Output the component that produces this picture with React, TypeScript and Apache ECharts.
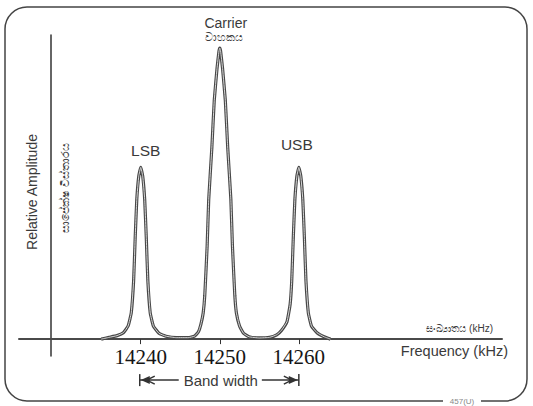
import React, { useEffect, useRef } from "react";
import * as echarts from "echarts";

// Spectrum trace: frequency (kHz) and relative amplitude (carrier = 1)
const freq = [
  14235.0, 14236.0, 14237.0, 14237.8, 14238.4, 14238.8, 14239.1, 14239.3, 14239.5, 14239.75,
  14240.0, 14240.25, 14240.5, 14240.7, 14240.9, 14241.2, 14241.6, 14242.3, 14243.2, 14244.5,
  14246.0, 14246.8, 14247.3, 14247.6, 14247.9, 14248.1, 14248.4, 14248.6, 14249.0, 14249.3,
  14249.65, 14249.9, 14250.0, 14250.1, 14250.35, 14250.7, 14251.0, 14251.4, 14251.6, 14251.9,
  14252.1, 14252.5, 14253.0, 14253.7, 14255.0, 14256.3, 14257.2, 14257.8, 14258.5, 14258.9,
  14259.1, 14259.3, 14259.5, 14259.75, 14260.0, 14260.25, 14260.5, 14260.7, 14260.9, 14261.2,
  14261.6, 14262.3, 14263.2, 14264.0,
];
const amp = [
  0.0, 0.006, 0.012, 0.022, 0.045, 0.09, 0.2, 0.35, 0.48, 0.56,
  0.59, 0.56, 0.48, 0.35, 0.2, 0.09, 0.045, 0.02, 0.01, 0.005,
  0.005, 0.01, 0.025, 0.05, 0.09, 0.15, 0.32, 0.48, 0.66, 0.82,
  0.93, 0.99, 1.0, 0.99, 0.93, 0.82, 0.66, 0.48, 0.32, 0.15,
  0.09, 0.045, 0.02, 0.008, 0.004, 0.006, 0.015, 0.03, 0.06, 0.12,
  0.2, 0.35, 0.48, 0.56, 0.59, 0.56, 0.48, 0.35, 0.2, 0.09,
  0.045, 0.022, 0.008, 0.0,
];

const tickValues = [14240, 14250, 14260];
const peakNames = ["LSB", "Carrier", "USB"];
const peakFreqs = [14240, 14250, 14260];
const peakAmps = [0.59, 1.0, 0.59];
const carrierSi = "වාහකය";
const ampTitle = "Relative Amplitude";
const ampTitleSi = "සාපේක්ෂ විස්තාරය";
const freqTitle = "Frequency (kHz)";
const freqTitleSi = "සංඛ්‍යාතය (kHz)";
const bandLabel = "Band width";
const figId = "457(U)";

const SANS = "Liberation Sans, Arial, sans-serif";
const INK = "#3a3a3a";

export default function App() {
  const ref = useRef<HTMLDivElement>(null);

  useEffect(() => {
    document.body.style.margin = "0";
    const chart = echarts.init(ref.current!, null, { renderer: "svg" });
    const points = freq.map((f, i) => [f, amp[i]]);

    chart.setOption({
      animation: false,
      backgroundColor: "#ffffff",
      grid: { left: 19, right: 31, top: 35, bottom: 50 },
      xAxis: {
        type: "value",
        min: 14224.6,
        max: 14285.7,
        splitLine: { show: false },
        axisLine: { onZero: true, lineStyle: { color: "#4a4a4a", width: 2 } },
        axisTick: {
          show: true,
          length: 5,
          customValues: tickValues,
          lineStyle: { color: "#333", width: 1 },
        },
        axisLabel: {
          customValues: tickValues,
          margin: -10,
          fontFamily: "Liberation Serif, Times New Roman, serif",
          fontSize: 21,
          color: "#151515",
          formatter: (v: number) => String(Math.round(v)),
        },
      },
      yAxis: {
        type: "value",
        min: -0.058,
        max: 1.045,
        offset: -32,
        splitLine: { show: false },
        axisLine: { show: true, onZero: false, lineStyle: { color: "#333", width: 1.5 } },
        axisTick: { show: false },
        axisLabel: { show: false },
      },
      series: [
        {
          type: "line",
          data: points,
          showSymbol: false,
          smooth: 0.12,
          lineStyle: { color: "#474747", width: 3.2 },
          z: 3,
        },
        {
          type: "line",
          data: points,
          showSymbol: false,
          smooth: 0.12,
          lineStyle: { color: "#d6d6d6", width: 1 },
          z: 4,
        },
      ],
    });

    const px = (x: number, y: number) =>
      chart.convertToPixel({ xAxisIndex: 0, yAxisIndex: 0 }, [x, y]) as number[];

    const origin = px(14224.6, 0);
    const axisY = origin[1];
    const yAxisX = px(14224.6, 0)[0] + 32;
    const graphics: any[] = [];

    // frame
    graphics.push({
      type: "rect",
      shape: { x: 5, y: 7, width: 522, height: 394, r: 22 },
      style: { fill: "none", stroke: "#444", lineWidth: 1.5 },
      z: 1,
    });
    graphics.push({
      type: "rect",
      shape: { x: 443, y: 396, width: 38, height: 10 },
      style: { fill: "#fff" },
      z: 2,
    });
    graphics.push({
      type: "text",
      x: 462,
      y: 401,
      style: { text: figId, fontSize: 8, fill: "#888", fontFamily: SANS, align: "center", verticalAlign: "middle" },
      z: 3,
    });

    // peak labels
    peakNames.forEach((name, i) => {
      const p = px(peakFreqs[i], peakAmps[i]);
      if (name === "Carrier") {
        graphics.push({
          type: "text",
          x: p[0] + 6,
          y: p[1] - 25,
          style: { text: name, fontSize: 14, fill: INK, fontFamily: SANS, align: "center", verticalAlign: "middle" },
        });
        graphics.push({
          type: "text",
          x: p[0] + 4,
          y: p[1] - 11,
          style: { text: carrierSi, fontSize: 11, fill: INK, fontFamily: SANS, align: "center", verticalAlign: "middle" },
        });
      } else {
        const dx = name === "LSB" ? 5 : -2;
        const dy = name === "LSB" ? -17 : -23;
        graphics.push({
          type: "text",
          x: p[0] + dx,
          y: p[1] + dy,
          style: { text: name, fontSize: 15.5, fill: INK, fontFamily: SANS, align: "center", verticalAlign: "middle" },
        });
      }
    });

    // axis titles
    graphics.push({
      type: "text",
      x: yAxisX - 19,
      y: 192,
      rotation: Math.PI / 2,
      style: { text: ampTitle, fontSize: 14, fill: INK, fontFamily: SANS, align: "center", verticalAlign: "middle" },
    });
    graphics.push({
      type: "text",
      x: yAxisX + 14,
      y: 188,
      rotation: Math.PI / 2,
      style: { text: ampTitleSi, fontSize: 11, fill: INK, fontFamily: SANS, align: "center", verticalAlign: "middle" },
    });
    graphics.push({
      type: "text",
      x: 493,
      y: axisY - 11,
      style: { text: freqTitleSi, fontSize: 10, fill: INK, fontFamily: SANS, align: "right", verticalAlign: "middle" },
    });
    graphics.push({
      type: "text",
      x: 508,
      y: axisY + 12,
      style: { text: freqTitle, fontSize: 14.5, fill: INK, fontFamily: SANS, align: "right", verticalAlign: "middle" },
    });

    // band width annotation
    const xl = px(14240, 0)[0] - 1;
    const xr = px(14260, 0)[0];
    const xc = px(14250, 0)[0] + 1;
    const by = axisY + 41;
    const st = { stroke: "#333", lineWidth: 1.5, fill: "none" };
    graphics.push({ type: "line", shape: { x1: xl, y1: by - 6, x2: xl, y2: by + 6 }, style: st });
    graphics.push({ type: "line", shape: { x1: xl, y1: by, x2: xl + 39, y2: by }, style: st });
    graphics.push({ type: "polygon", shape: { points: [[xl + 1, by], [xl + 10, by - 4], [xl + 10, by + 4]] }, style: { fill: "#333" } });
    graphics.push({ type: "polyline", shape: { points: [[xl + 15, by - 4], [xl + 7, by], [xl + 15, by + 4]] }, style: st });
    graphics.push({ type: "line", shape: { x1: xr, y1: by - 6, x2: xr, y2: by + 6 }, style: st });
    graphics.push({ type: "line", shape: { x1: xr - 37, y1: by, x2: xr, y2: by }, style: st });
    graphics.push({ type: "polygon", shape: { points: [[xr - 1, by], [xr - 10, by - 4], [xr - 10, by + 4]] }, style: { fill: "#333" } });
    graphics.push({ type: "polyline", shape: { points: [[xr - 15, by - 4], [xr - 7, by], [xr - 15, by + 4]] }, style: st });
    graphics.push({
      type: "text",
      x: xc,
      y: by,
      style: { text: bandLabel, fontSize: 15, fill: INK, fontFamily: SANS, align: "center", verticalAlign: "middle" },
    });

    chart.setOption({ graphic: graphics });

    return () => chart.dispose();
  }, []);

  return <div ref={ref} style={{ width: 533, height: 406 }} />;
}
